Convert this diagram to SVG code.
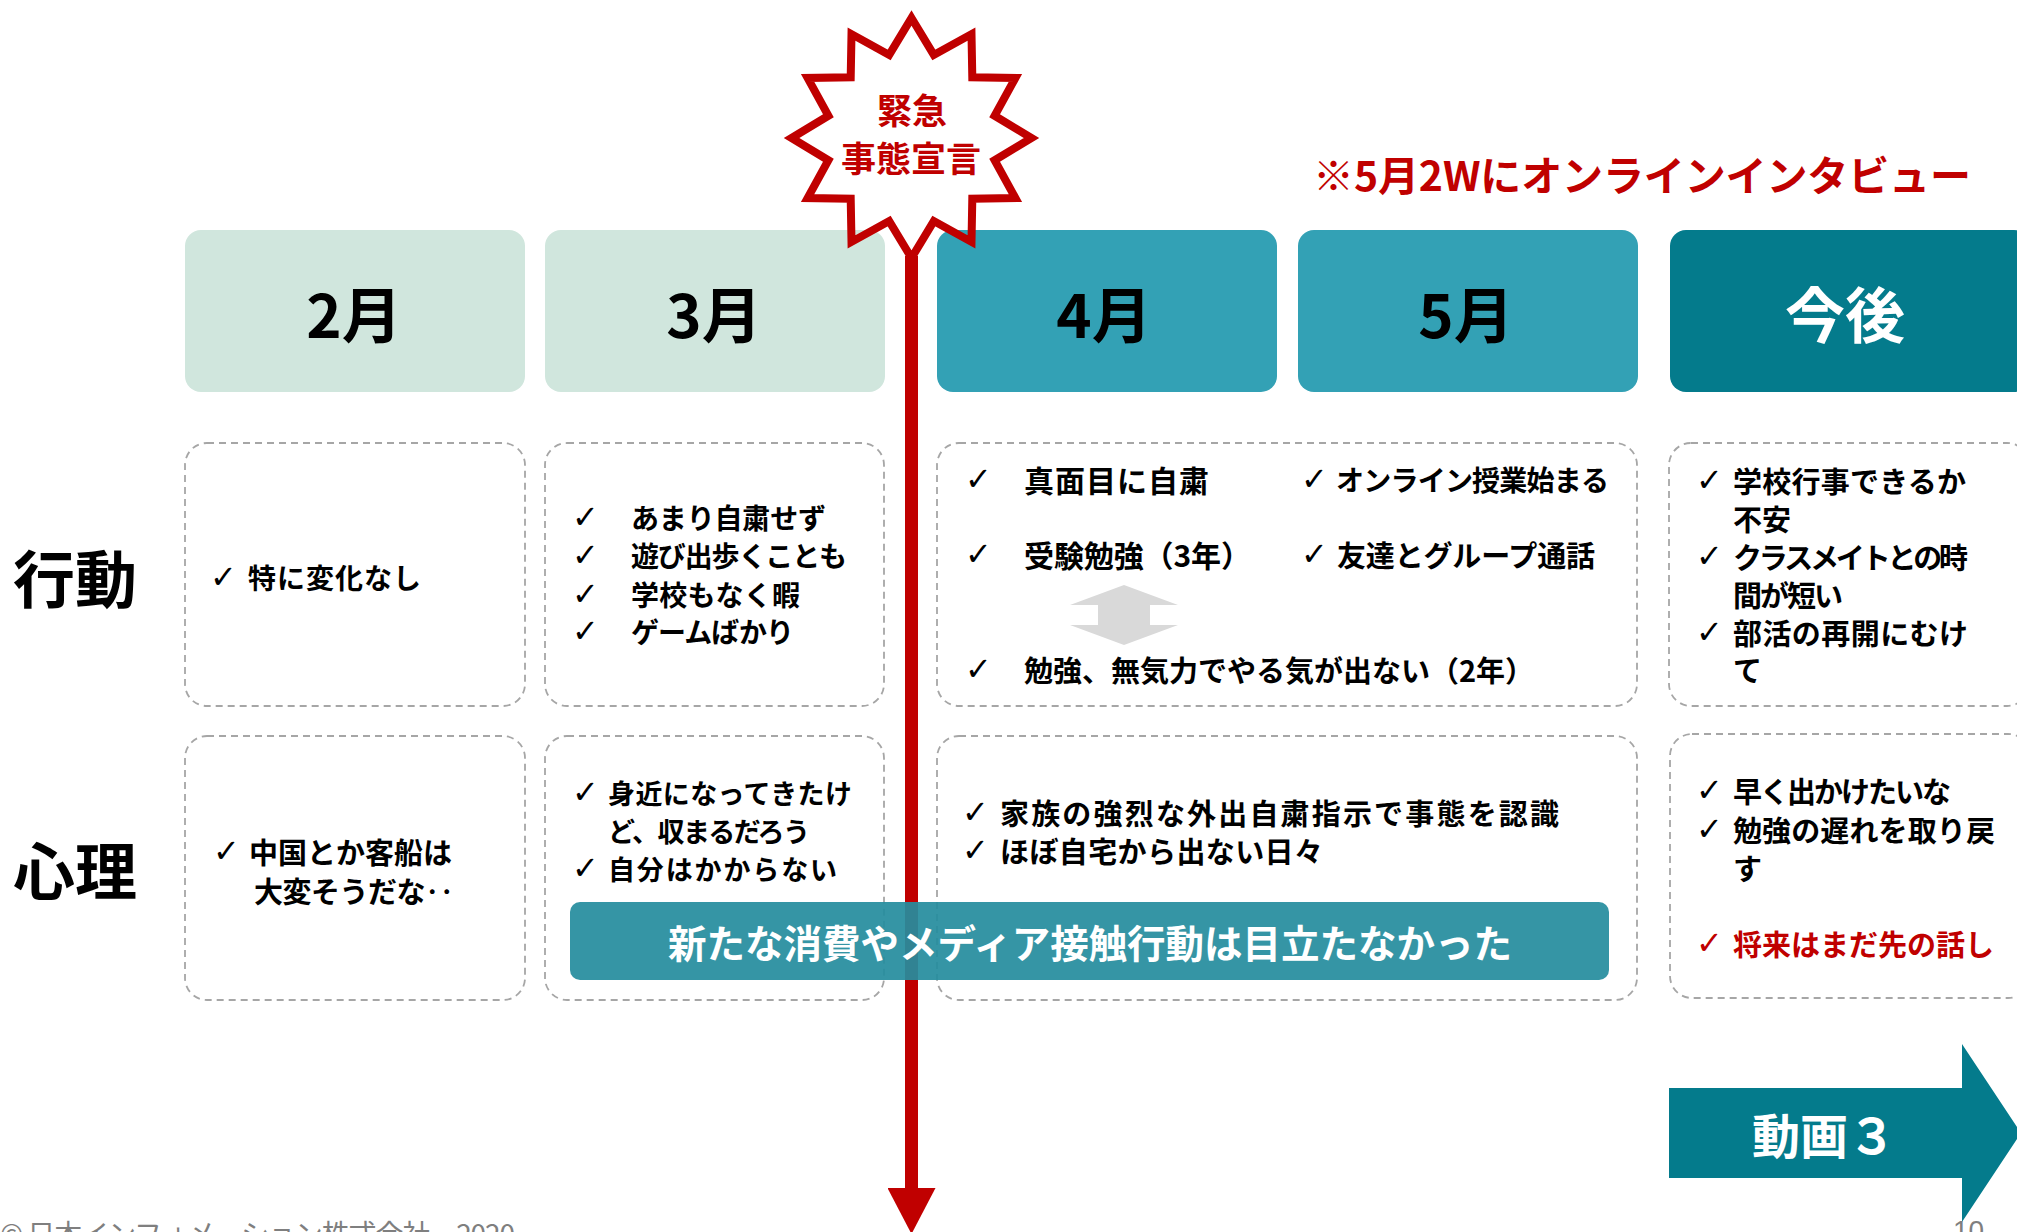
<svg xmlns="http://www.w3.org/2000/svg" width="2017" height="1232" viewBox="0 0 2017 1232">
<defs>
<style>
.t{font-family:"Noto Sans CJK JP","Noto Sans",sans-serif;font-weight:700;fill:#000;dominant-baseline:central}
.ck{font-family:"DejaVu Sans",sans-serif;font-weight:400;font-size:32px;fill:#000;dominant-baseline:central}
.hd{font-size:60px;text-anchor:middle}
.cell{fill:none;stroke:#A6A6A6;stroke-width:1.8;stroke-dasharray:7 5}
.c28{font-size:28px}
.c29{font-size:29px}
.red{fill:#C00000}
.wh{fill:#FFFFFF}
</style>
<marker id="redhead" viewBox="0 0 46 48" refX="0" refY="24" markerWidth="46" markerHeight="48" markerUnits="userSpaceOnUse" orient="auto">
<path d="M0,0 L46,24 L0,48 Z" fill="#C00000"/>
</marker>
</defs>
<rect width="2017" height="1232" fill="#FFFFFF"/>

<g id="hdr-feb"><rect x="185" y="230" width="340" height="162" rx="16" fill="#D0E6DD"/><text class="t hd" x="354" y="311">2月</text></g>
<g id="hdr-mar"><rect x="545" y="230" width="340" height="162" rx="16" fill="#D0E6DD"/><text class="t hd" x="714" y="311">3月</text></g>
<g id="hdr-apr"><rect x="937" y="230" width="340" height="162" rx="16" fill="#33A1B5"/><text class="t hd" x="1104" y="311">4月</text></g>
<g id="hdr-may"><rect x="1298" y="230" width="340" height="162" rx="16" fill="#33A1B5"/><text class="t hd" x="1466" y="311">5月</text></g>
<g id="hdr-future"><rect x="1670" y="230" width="360" height="162" rx="16" fill="#047B8C"/><text class="t hd wh" x="1845" y="311" font-size="62">今後</text></g>

<g id="lbl-action"><text class="t" x="13" y="576" font-size="62">行動</text></g>
<g id="lbl-mind"><text class="t" x="13" y="868" font-size="62">心理</text></g>

<g id="act-feb"><rect class="cell" x="185" y="443" width="340" height="263" rx="22"/>
<text class="ck" x="210" y="577">✓</text><text class="t c28" x="248" y="577" textLength="173">特に変化なし</text></g>

<g id="act-mar"><rect class="cell" x="545" y="443" width="339" height="263" rx="22"/>
<text class="ck" x="572" y="517">✓</text><text class="t c28" x="631" y="517" textLength="195">あまり自粛せず</text>
<text class="ck" x="572" y="555">✓</text><text class="t c28" x="631" y="555" textLength="216">遊び出歩くことも</text>
<text class="ck" x="572" y="594">✓</text><text class="t c28" x="631" y="594" textLength="169">学校もなく暇</text>
<text class="ck" x="572" y="631">✓</text><text class="t c28" x="631" y="631" textLength="163">ゲームばかり</text></g>

<g id="act-aprmay"><rect class="cell" x="937" y="443" width="700" height="263" rx="22"/>
<text class="ck" x="965" y="479">✓</text><text class="t" font-size="30" x="1024" y="479" textLength="185">真面目に自粛</text>
<text class="ck" x="1301" y="479">✓</text><text class="t c28" x="1336" y="479" textLength="273">オンライン授業始まる</text>
<text class="ck" x="965" y="554">✓</text><text class="t" font-size="30" x="1024" y="554" textLength="227">受験勉強（3年）</text>
<text class="ck" x="1301" y="554">✓</text><text class="t c29" x="1337" y="554" textLength="258">友達とグループ通話</text>
<path d="M1124,585 L1178,605 L1150,605 L1150,625 L1178,625 L1124,645 L1070,625 L1098,625 L1098,605 L1070,605 Z" fill="#D9D9D9"/>
<text class="ck" x="965" y="669">✓</text><text class="t c29" x="1024" y="669" textLength="510">勉強、無気力でやる気が出ない（2年）</text></g>

<g id="act-future"><rect class="cell" x="1669" y="443" width="360" height="263" rx="22"/>
<text class="ck" x="1696" y="480">✓</text><text class="t c29" x="1733" y="480" textLength="233">学校行事できるか</text>
<text class="t c29" x="1733" y="518">不安</text>
<text class="ck" x="1696" y="556">✓</text><text class="t c29" x="1733" y="556" textLength="235">クラスメイトとの時</text>
<text class="t c29" x="1733" y="594" textLength="110">間が短い</text>
<text class="ck" x="1696" y="632">✓</text><text class="t c29" x="1733" y="632" textLength="235">部活の再開にむけ</text>
<text class="t c29" x="1733" y="669">て</text></g>

<g id="mind-feb"><rect class="cell" x="185" y="736" width="340" height="264" rx="22"/>
<text class="ck" x="213" y="851">✓</text><text class="t c29" x="249" y="851" textLength="203">中国とか客船は</text>
<text class="t c29" x="254" y="890" textLength="200">大変そうだな‥</text></g>

<g id="mind-mar"><rect class="cell" x="545" y="736" width="339" height="264" rx="22"/>
<text class="ck" x="572" y="792">✓</text><text class="t" font-size="27" x="608" y="792" textLength="244">身近になってきたけ</text>
<text class="t" font-size="27" x="608" y="830" textLength="202">ど、収まるだろう</text>
<text class="ck" x="572" y="868">✓</text><text class="t" font-size="27" x="608" y="868" textLength="229">自分はかからない</text></g>

<g id="mind-aprmay"><rect class="cell" x="937" y="736" width="700" height="264" rx="22"/>
<text class="ck" x="962" y="812">✓</text><text class="t c29" x="1000" y="812" textLength="559">家族の強烈な外出自粛指示で事態を認識</text>
<text class="ck" x="962" y="850">✓</text><text class="t c29" x="1000" y="850" textLength="323">ほぼ自宅から出ない日々</text></g>

<g id="mind-future"><rect class="cell" x="1670" y="734" width="360" height="264" rx="22"/>
<text class="ck" x="1696" y="790">✓</text><text class="t c29" x="1733" y="790" textLength="218">早く出かけたいな</text>
<text class="ck" x="1696" y="829">✓</text><text class="t c29" x="1733" y="829" textLength="262">勉強の遅れを取り戻</text>
<text class="t c29" x="1733" y="867">す</text>
<text class="ck red" x="1696" y="943">✓</text><text class="t c29 red" x="1733" y="943" textLength="261">将来はまだ先の話し</text></g>

<g id="connectors">
<path d="M911.5,256 L911.5,1188" stroke="#C00000" stroke-width="13" fill="none" marker-end="url(#redhead)"/>
</g>

<g id="emergency-star">
<polygon points="911.5,18 933.8,54.9 971.5,34.1 972.3,77.2 1015.4,78 994.6,115.7 1031.5,138 994.6,160.3 1015.4,198 972.3,198.8 971.5,241.9 933.8,221.1 911.5,258 889.2,221.1 851.5,241.9 850.7,198.8 807.6,198 828.4,160.3 791.5,138 828.4,115.7 807.6,78 850.7,77.2 851.5,34.1 889.2,54.9" fill="none" stroke="#C00000" stroke-width="8" stroke-linejoin="miter" stroke-miterlimit="10"/>
<text class="t red" x="912" y="108" font-size="35" text-anchor="middle">緊急</text>
<text class="t red" x="911" y="156" font-size="35" text-anchor="middle">事態宣言</text>
</g>

<g id="note"><text class="t red" x="1313" y="173" font-size="41" textLength="658">※5月2Wにオンラインインタビュー</text></g>

<g id="banner"><rect x="570" y="902" width="1039" height="78" rx="10" fill="#268D9E" opacity="0.93"/>
<text class="t wh" x="668" y="941" font-size="38.5" textLength="844">新たな消費やメディア接触行動は目立たなかった</text></g>

<g id="video3"><polygon points="1669,1088 1962,1088 1962,1044 2021,1133 1962,1222 1962,1178 1669,1178" fill="#047B8C"/>
<text class="t wh" x="1824" y="1133" font-size="48" text-anchor="middle">動画３</text></g>

<g id="footer">
<text x="0" y="1245" font-family="Noto Sans CJK JP, sans-serif" font-size="28" fill="#7F7F7F" textLength="515">© 日本インフォメーション株式会社　2020</text>
<text x="1953" y="1240" font-family="Liberation Sans, sans-serif" font-size="28" fill="#7F7F7F">10</text>
</g>
</svg>
